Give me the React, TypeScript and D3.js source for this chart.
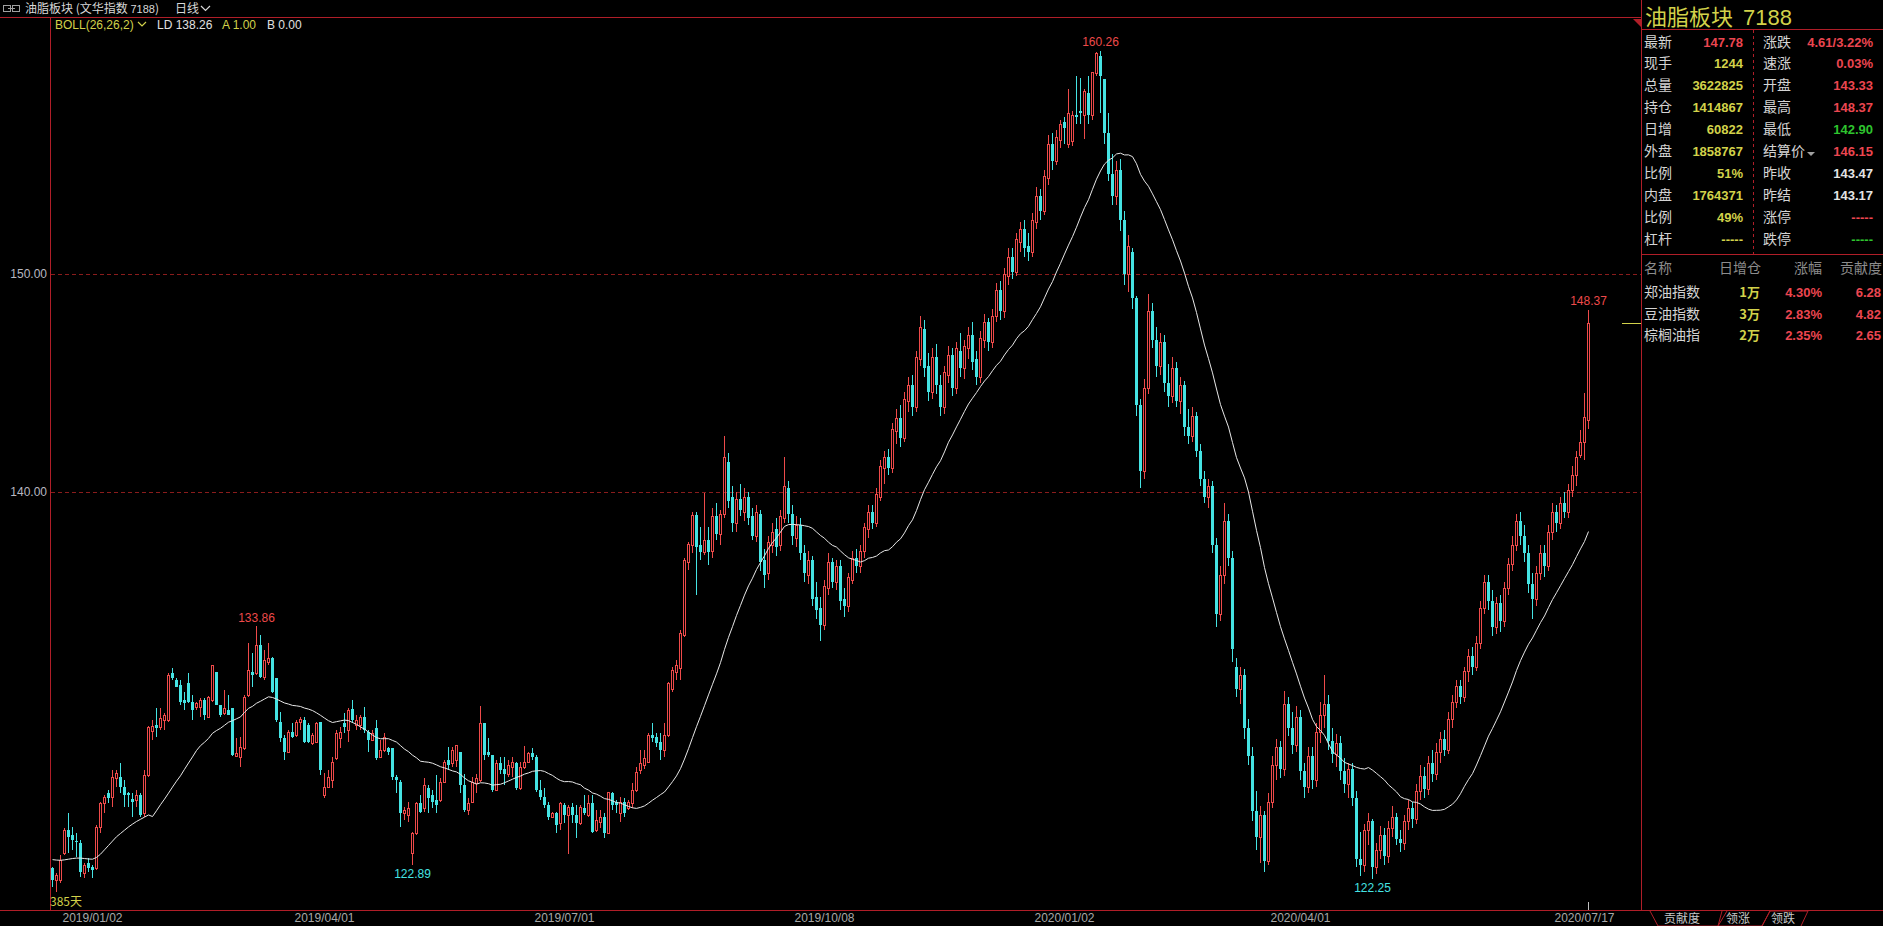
import React from 'react';
import * as d3 from 'd3';

// ---- candle data [open, high, low, close] ----
const ohlcA: [number, number, number, number][] = [
  [122.75,122.83,121.91,122.22],[122.22,122.52,121.68,122.45],[122.22,123.36,122.06,123.13],[123.44,124.59,123.36,124.51],
  [124.51,125.27,123.44,124.2],[124.28,124.66,123.6,124.05],[124.02,124.36,123.29,123.94],[123.9,124.05,122.37,122.6],
  [122.52,122.98,122.3,122.9],[122.98,123.21,122.6,122.75],[122.83,122.9,122.3,122.67],[122.75,124.74,122.67,124.66],
  [124.66,125.81,124.36,125.73],[125.73,126.11,125.27,126.04],[126.19,126.34,125.73,125.96],[126.04,127.26,125.58,126.96],
  [126.88,127.26,126.5,127.11],[126.96,127.57,126.19,126.5],[126.5,126.8,125.58,126.11],[126.19,126.27,125.58,126.11],
  [125.92,126.19,125.12,125.81],[125.89,126.34,125.58,126.11],[126.11,126.19,125.12,125.2],[125.27,127.26,125.12,127.03],
  [127.03,129.28,126.95,129.25],[129.06,129.55,128.64,129.28],[129.32,130.09,128.79,129.17],[129.25,130.09,129.09,129.63],
  [129.55,129.86,129.09,129.78],[129.55,131.69,129.48,131.62],[131.69,131.92,131.39,131.46],[131.39,131.46,131.08,131.08],
  [131.16,131.39,130.24,130.39],[130.47,130.85,130.01,130.32],[131.23,131.69,130.32,130.39],[130.39,130.7,129.55,130.01],
  [130.16,130.39,130.01,130.32],[130.16,130.55,129.71,130.47],[130.47,130.55,129.55,129.78],[129.71,130.65,129.63,130.62],
  [130.47,132.08,130.39,132.08],[131.77,131.77,130.24,130.24],[130.24,130.24,129.71,129.78],[129.86,130.93,129.78,130.09],
  [130.01,130.7,129.78,129.78],[130.09,130.09,127.9,127.95],[127.9,128.71,127.87,128.05],[127.87,128.79,127.41,128.33],
  [128.25,130.7,128.18,130.62],[130.7,133.07,130.62,131.85],[131.77,132.61,131.08,131.62],[131.69,133.86,131.62,132.99],
  [132.99,133.45,131.46,131.54],[131.54,132.76,131.39,132.31],[132.23,133.07,132.08,132.38],[132.38,132.46,130.78,130.85],
  [131.46,131.46,129.48,129.55],[129.48,129.93,128.56,128.71],[128.71,128.87,127.72,128.1],[128.1,129.09,128.02,129.02],
  [129.02,129.4,128.71,128.79],[128.87,129.55,128.79,129.48],[129.48,129.71,129.09,129.58],[129.55,129.71,128.48,128.56],
  [129.32,129.4,128.48,128.56],[128.48,128.94,128.41,128.87],[128.56,129.48,128.48,129.4],[129.48,129.48,127.03,127.26],
  [126.11,127.11,125.96,126.49],[126.49,127.26,126.42,126.95],[126.8,127.87,126.42,127.64],[127.79,129.09,127.72,128.94],
  [128.71,129.25,128.25,129.02],[129.4,129.86,128.94,129.25],[129.09,130.09,128.56,130.01],[130.04,130.47,129.4,129.55],
  [129.32,129.78,129.09,129.55],[129.32,129.78,129.09,129.71],[129.67,130.13,128.94,129.09],[129.02,129.09,128.1,128.64],
  [128.64,129.09,128.6,128.94],[129.17,129.55,127.72,127.79],[127.87,128.64,127.79,128.18],[128.18,128.94,128.1,128.79],
  [128.25,128.33,127.95,128.1],[128.25,128.25,126.8,126.95],[126.95,127.03,126.19,126.8],[126.72,126.8,124.66,125.27],
  [125.27,125.58,124.97,125.42],[125.19,125.81,124.89,125.5],[123.44,124.43,122.89,124.35],[124.35,125.81,124.28,125.73],
  [125.73,126.11,125.27,125.35],[125.5,126.88,125.35,126.57],[126.42,126.57,125.27,125.96],[126.11,126.34,125.5,125.8],
  [125.88,127.03,125.27,125.65],[125.88,126.88,125.8,126.72],[126.72,127.72,126.65,127.64],[127.72,128.33,127.26,127.49],
  [127.56,128.33,127.41,128.17],[127.72,128.4,127.41,128.4],[128.1,128.1,126.19,126.57],[126.57,127.1,125.35,125.42],
  [125.42,125.96,125.19,125.73],[125.8,126.95,125.73,126.72],[126.65,127.1,126.19,126.88],[126.8,130.19,126.72,129.4],
  [129.4,129.4,127.72,127.95],[128.1,128.71,127.87,127.95],[127.95,127.95,126.26,126.34],[126.34,127.72,126.34,127.56],
  [127.56,127.87,127.1,127.26],[127.33,127.87,126.57,127.1],[127.1,127.72,126.95,127.49],[127.41,127.87,126.95,127.64],
  [127.56,127.64,126.34,126.42],[126.42,127.64,126.34,127.41],[127.41,128.36,127.33,127.64],[127.64,128.1,127.56,128.02],
  [128.02,128.25,127.72,127.87],[127.87,127.95,126.26,126.34],[126.34,126.8,125.88,126.03],[126.03,126.42,125.5,125.65],
  [125.65,125.8,124.96,125.12],[125.12,125.35,125.04,125.27],[125.27,125.35,124.35,124.73],[124.81,125.8,124.5,125.73],
  [125.65,125.73,124.81,125.19],[125.19,125.65,123.43,125.57],[125.57,125.73,124.81,125.19],[125.19,125.65,124.12,124.81],
  [124.81,125.65,124.73,125.57],[125.5,126.11,125.19,125.27],[125.19,126.11,125.12,125.73],[125.73,126.11,124.35,124.43],
  [124.5,125.42,124.43,124.96],[124.89,125.42,124.58,125.12],[125.12,125.27,124.12,124.35],[124.35,126.26,124.35,126.26],
  [126.19,126.26,125.42,125.65],[125.8,125.88,125.27,125.65],[125.27,126.03,124.89,125.8],[125.8,125.96,125.12,125.27],
  [125.5,125.88,125.42,125.8],[125.73,126.65,125.5,126.34],[126.34,127.41,126.26,127.18],[127.26,128.17,127.1,127.56],
  [127.49,128.17,127.33,127.79],[127.64,128.94,127.56,128.86],[128.86,129.4,128.56,128.71],[128.79,128.94,128.33,128.48],
  [128.56,128.94,127.72,128.17],[128.17,129.4,127.87,128.86],[128.86,131.31,128.79,131.23],[131.0,132.0,130.85,131.84],
  [131.77,132.3,131.39,132.07],[131.92,133.68,131.39,133.53],[133.45,136.97,133.37,136.89],[136.81,137.73,136.43,137.65],
  [137.58,139.11,137.2,138.95],[138.95,139.11,135.28,137.5],[137.58,138.42,136.89,137.27],[137.27,139.95,137.12,137.81],
  [137.81,138.42,136.66,137.27],
];
const ohlcB: [number, number, number, number][] = [
  [137.3,139.3,137.0,138.9],[138.9,139.5,137.8,138.1],[138.1,139.2,137.6,139.0],[139.0,142.6,138.8,141.6],
  [141.4,141.8,139.3,139.6],[139.8,140.3,138.2,138.6],[138.6,140.0,138.2,139.7],[139.7,140.4,138.9,139.2],
  [139.1,140.2,138.7,139.8],[139.8,140.0,138.5,138.8],[138.9,139.3,137.8,138.0],[138.0,139.4,137.7,139.1],
  [139.0,139.2,136.4,136.8],[136.9,137.4,135.6,136.2],[136.3,138.0,136.0,137.7],[137.6,138.6,137.2,138.2],
  [138.3,138.8,137.1,137.5],[137.6,139.2,137.3,138.9],[138.8,141.6,138.6,140.3],[140.2,140.5,138.6,139.0],
  [139.0,139.4,137.6,138.0],[137.9,138.9,137.5,138.5],[138.5,138.8,136.9,137.2],[137.2,137.6,135.9,136.3],
  [136.2,137.3,135.8,136.9],[136.9,137.1,134.8,135.1],[135.2,135.9,134.2,134.6],[134.7,135.2,133.2,133.9],
  [133.9,136.0,133.7,135.7],[135.6,137.2,135.3,136.8],[136.8,137.0,135.6,135.9],[135.9,136.9,135.5,136.6],
  [136.6,136.9,134.6,135.0],[135.1,135.6,134.3,134.8],[134.8,136.3,134.5,136.1],[136.0,137.3,135.8,137.0],
  [137.0,137.4,136.3,136.6],[136.6,137.6,136.3,137.3],[137.3,138.6,137.0,138.4],[138.3,139.4,137.9,139.1],
  [139.1,139.4,138.3,138.6],[138.6,140.2,138.4,139.9],[139.8,141.5,139.6,141.2],[141.1,141.9,140.4,141.6],
  [141.6,142.0,140.8,141.1],[141.1,143.2,140.9,142.9],[142.8,143.8,142.2,143.4],[143.4,144.0,142.1,142.5],
  [142.5,144.6,142.3,144.3],[144.2,145.3,143.7,144.9],[144.9,145.4,143.5,143.9],[143.9,146.5,143.7,146.2],
  [146.1,148.1,145.8,147.6],[147.5,147.9,145.3,145.7],[145.8,146.4,144.2,144.6],[144.6,146.6,144.3,146.2],
  [146.2,146.8,144.5,144.9],[144.9,145.4,143.5,143.9],[143.9,145.8,143.6,145.5],[145.4,146.7,145.0,146.3],
  [146.3,146.6,144.4,144.8],[144.8,146.9,144.5,146.6],[146.5,147.3,145.3,145.7],[145.7,147.0,145.2,146.7],
  [146.6,147.6,146.1,147.2],[147.2,147.8,145.6,146.0],[146.1,146.5,144.9,145.3],[145.3,147.4,145.0,147.1],
  [147.0,148.2,146.6,147.8],[147.8,148.0,146.5,146.9],[146.9,148.4,146.6,148.1],[148.1,149.6,147.8,149.3],
  [149.3,149.7,147.9,148.3],[148.3,150.3,148.0,150.0],[149.9,151.2,149.5,150.8],[150.8,151.2,149.8,150.1],
  [150.1,151.9,149.9,151.6],[151.5,152.4,151.0,152.1],[152.1,152.5,150.8,151.2],[151.3,151.9,150.6,151.0],
  [151.0,152.8,150.8,152.5],[152.4,154.0,152.1,153.6],[153.6,153.9,152.5,152.9],[152.9,154.8,152.7,154.5],
  [154.4,156.4,154.1,156.0],[156.0,156.5,154.8,155.2],[155.2,156.6,155.0,156.3],[156.16,157.08,155.8,156.9],
  [157.0,157.2,156.0,156.7],[156.0,158.5,155.8,157.4],[156.1,157.5,155.9,157.3],[157.3,159.1,156.9,157.2],
  [157.5,159.0,156.9,157.4],[157.3,158.5,156.2,158.4],[158.3,159.1,156.9,157.3],[157.3,159.3,157.1,159.3],
  [159.22,160.2,159.1,160.14],[160.0,160.26,157.4,159.1],[158.94,158.94,156.0,156.5],[156.5,157.4,154.3,154.6],
  [154.6,155.5,153.2,153.6],[153.6,155.2,153.2,154.8],[154.8,155.3,152.0,152.5],[152.5,152.9,149.5,150.0],
  [150.0,151.8,149.2,151.3],[151.0,151.2,148.4,148.9],[148.9,149.0,143.5,144.0],[144.0,144.3,140.2,141.0],
  [141.0,145.2,140.6,144.8],[144.8,149.1,144.5,148.3],[148.3,148.7,146.6,147.0],[147.0,147.6,145.3,145.8],
  [145.8,147.3,145.4,146.9],[146.9,147.2,144.6,145.0],[145.0,145.9,143.9,144.4],[144.4,146.2,144.1,145.7],
  [145.7,146.0,143.9,144.2],[144.2,145.3,143.6,144.9],[144.9,145.1,142.6,143.0],[143.0,143.8,142.2,142.6],
  [142.6,143.9,142.3,143.5],[143.5,143.7,141.6,141.9],[141.9,142.2,140.3,140.6],[140.6,141.0,139.5,139.8],
  [139.8,140.6,139.3,140.3],[140.3,140.5,137.2,137.6],[137.6,137.9,133.8,134.4],[134.4,136.6,134.1,136.2],
  [136.2,139.5,135.8,138.7],[138.7,139.0,136.6,137.0],[137.0,137.3,132.2,132.8],[132.0,132.4,130.6,131.0],
  [131.0,132.0,130.3,131.6],[131.6,131.9,128.7,129.2],[129.2,129.6,127.5,127.9],[127.9,128.3,124.9,125.4],
  [125.4,126.3,123.6,124.2],[124.2,125.6,123.0,125.2],[125.2,125.4,122.6,123.1],[123.1,126.2,122.9,125.8],
  [125.8,127.9,125.5,127.5],[127.5,128.7,126.8,128.3],[128.3,128.6,126.9,127.3],[127.3,130.9,127.0,130.3],
  [130.3,130.6,128.8,129.2],[129.2,129.9,128.0,128.4],[128.4,130.2,128.1,129.7],[129.7,130.0,126.8,127.2],
  [127.2,127.6,126.0,126.5],[126.5,128.3,126.2,127.9],[127.9,128.3,126.4,126.8],[126.8,129.4,126.5,129.0],
  [129.0,130.4,128.5,129.8],[129.8,131.6,129.2,130.3],[130.3,130.7,128.2,128.6],[128.6,129.2,127.6,128.0],
  [128.0,128.9,127.4,128.5],[128.5,128.8,126.8,127.2],[127.2,127.8,126.2,126.6],[126.6,127.6,126.0,127.3],
  [127.3,127.6,125.6,126.0],[126.0,126.3,122.8,123.2],[123.2,124.4,122.4,122.9],[122.9,124.8,122.6,124.5],
  [124.5,125.3,123.8,124.9],[124.9,125.0,122.25,122.8],[122.8,123.9,122.5,123.6],[123.6,124.7,123.2,124.3],
  [124.3,124.6,122.9,123.3],[123.3,124.9,123.0,124.6],[124.6,125.6,124.2,125.1],[125.1,125.3,123.8,124.1],
  [124.1,124.5,123.5,123.9],[123.9,125.2,123.6,124.9],[124.9,125.9,124.5,125.5],[125.5,125.8,124.6,125.0],
  [125.0,126.6,124.8,126.3],[126.3,127.5,125.9,127.0],[127.0,127.4,126.0,126.4],[126.4,127.9,126.1,127.6],
  [127.6,128.2,126.7,127.1],[127.1,128.5,126.8,128.1],[128.1,129.0,127.6,128.7],[128.7,129.1,127.9,128.2],
  [128.2,129.9,128.0,129.6],[129.6,130.7,129.2,130.4],[130.4,131.4,130.1,131.1],[131.1,131.4,130.3,130.6],
  [130.6,132.0,130.4,131.8],[131.8,132.8,131.3,132.5],[132.5,132.9,131.6,132.0],[132.0,133.4,131.8,133.1],
  [133.1,135.0,132.8,134.7],[134.7,136.2,134.4,135.9],[135.9,136.2,134.6,135.0],[135.0,135.5,133.4,133.8],
  [133.8,135.2,133.5,134.9],[134.9,135.3,133.6,134.1],[134.1,135.9,133.8,135.6],[135.6,137.0,135.3,136.7],
  [136.7,138.0,136.4,137.6],[137.6,139.0,137.3,138.7],[138.7,139.1,137.6,138.0],[138.0,138.5,136.8,137.2],
  [137.2,137.6,135.4,135.8],[135.8,136.3,134.2,135.1],[135.1,136.6,134.8,136.3],[136.3,137.6,136.0,137.2],
  [137.2,137.6,136.1,136.6],[136.6,138.5,136.4,138.2],[138.2,139.5,137.8,139.1],[139.1,139.4,138.2,138.6],
  [138.6,139.8,138.3,139.5],[139.5,140.0,138.8,139.1],[139.1,140.4,138.8,140.1],[140.1,141.2,139.8,140.8],
  [140.8,141.9,140.3,141.64],[141.71,142.86,141.56,142.32],[142.32,144.54,141.48,143.47],[143.33,148.37,142.90,147.78],
];

// BOLL mid values read for the first candles (before 26 closes are available)
const bollHead = [123.15,123.13,123.12,123.14,123.17,123.2,123.22,123.22,123.2,123.18,123.17,123.25,123.4,123.6,123.8,124.0,124.2,124.35,124.5,124.65,124.78,124.9,125.0,125.1,125.2];

const TOTAL = 385;
const dateLabels = ['2019/01/02','2019/04/01','2019/07/01','2019/10/08','2020/01/02','2020/04/01','2020/07/17'];
const dateIndex = [10, 68, 128, 193, 253, 312, 383];
const yTicks = [140, 150];
const highMarks: [number, string][] = [[51,'133.86'],[262,'160.26'],[384,'148.37']];
const lowMarks: [number, string][] = [[90,'122.89'],[330,'122.25']];
const lastPrice = 147.78;

const quoteLeft: [string, string, string][] = [
  ['最新','147.78','r'],['现手','1244','y'],['总量','3622825','y'],['持仓','1414867','y'],['日增','60822','y'],
  ['外盘','1858767','y'],['比例','51%','y'],['内盘','1764371','y'],['比例','49%','y'],['杠杆','-----','y'],
];
const quoteRight: [string, string, string][] = [
  ['涨跌','4.61/3.22%','r'],['速涨','0.03%','r'],['开盘','143.33','r'],['最高','148.37','r'],['最低','142.90','g'],
  ['结算价','146.15','r'],['昨收','143.47','w'],['昨结','143.17','w'],['涨停','-----','r'],['跌停','-----','g'],
];
const contribHead = ['名称','日增仓','涨幅','贡献度'];
const contribRows: [string, string, string, string][] = [
  ['郑油指数','1万','4.30%','6.28'],['豆油指数','3万','2.83%','4.82'],['棕榈油指','2万','2.35%','2.65'],
];
const tabs = ['贡献度','领涨','领跌'];

const RED = '#ee4a4a';
const CYAN = '#45e3e3';
const YEL = '#d2d24a';
const FRAME = '#b01e28';
const FONT = '"Liberation Sans", Arial, "Noto Sans CJK SC", sans-serif';
const CJK = '"Noto Sans CJK SC", "Liberation Sans", sans-serif';
const colorOf: Record<string, string> = { r: '#ec4650', y: YEL, g: '#2ec42e', w: '#e4e4e4' };

export default function App() {
  const data = [...ohlcA, ...ohlcB];
  const left = 50, right = 1641, top = 17, bottom = 910;
  const x = d3.scaleLinear().domain([0, TOTAL - 1]).range([52.5, 52.5 + 4 * (TOTAL - 1)]);
  const y = d3.scaleLinear().domain([140, 150]).range([492.3, 274.3]);
  const closes = data.map(d => d[3]);
  const mid: [number, number][] = closes.map((_, i) => {
    if (i < 25) return [i, bollHead[i]];
    return [i, d3.mean(closes.slice(i - 25, i + 1)) as number];
  });
  const midPath = d3.line<[number, number]>().x(d => x(d[0])).y(d => y(d[1])).curve(d3.curveLinear)(mid) || '';
  const R = (v: number) => Math.round(v);

  return (
    <div style={{ position: 'absolute', left: 0, top: 0, width: 1883, height: 926, background: '#000' }}>
      <svg width={1883} height={926} style={{ display: 'block', background: '#000' }}>
        {/* header */}
        <g>
          <rect x={3.5} y={5.5} width={7} height={6} fill="none" stroke="#a0a0a0" />
          <rect x={12.5} y={5.5} width={7} height={6} fill="none" stroke="#a0a0a0" />
          <line x1={8} y1={8.5} x2={15} y2={8.5} stroke="#a0a0a0" />
          <text x={25} y={13} fill="#d8d8d8" fontSize={12} fontFamily={CJK}>油脂板块 (文华指数 <tspan fontFamily={FONT} fontSize={11}>7188</tspan>)</text>
          <text x={175} y={13} fill="#d8d8d8" fontSize={12} fontFamily={CJK}>日线</text>
          <polyline points="201,6 205.5,10.5 210,6" fill="none" stroke="#d8d8d8" strokeWidth={1.2} />
        </g>
        <line x1={0} y1={top + 0.5} x2={right} y2={top + 0.5} stroke={FRAME} />
        <line x1={left + 0.5} y1={top} x2={left + 0.5} y2={bottom} stroke={FRAME} />
        <line x1={0} y1={bottom + 0.5} x2={1883} y2={bottom + 0.5} stroke={FRAME} />
        <line x1={right + 0.5} y1={0} x2={right + 0.5} y2={bottom} stroke={FRAME} />

        {/* indicator legend */}
        <g fontFamily={FONT} fontSize={12}>
          <text x={55} y={29} fill={YEL}>BOLL(26,26,2)</text>
          <polyline points="138,22 142,26 146,22" fill="none" stroke={YEL} strokeWidth={1.2} />
          <text x={157} y={29} fill="#e0e0e0">LD 138.26</text>
          <text x={222} y={29} fill={YEL}>A 1.00</text>
          <text x={267} y={29} fill="#e0e0e0">B 0.00</text>
        </g>

        {/* grid + y labels */}
        {yTicks.map(t => (
          <g key={t}>
            <line x1={left + 1} x2={right} y1={R(y(t)) + 0.5} y2={R(y(t)) + 0.5} stroke="#8a1c1c" strokeDasharray="4,3" />
            <text x={47} y={R(y(t)) + 4} fill="#b8b8c0" fontSize={12} fontFamily={FONT} textAnchor="end">{t.toFixed(2)}</text>
          </g>
        ))}

        {/* candles */}
        <g>
          {data.map((d, i) => {
            const [o, h, l, c] = d;
            const cx = x(i);
            if (c >= o) {
              const yt = R(y(c)), yb = R(y(o));
              const hh = Math.max(yb - yt, 1);
              return (
                <g key={i}>
                  <line x1={cx} x2={cx} y1={R(y(h))} y2={yt} stroke={RED} />
                  <line x1={cx} x2={cx} y1={yt + hh} y2={R(y(l))} stroke={RED} />
                  <rect x={cx - 1} y={yt + 0.5} width={2} height={hh} fill="none" stroke={RED} />
                </g>
              );
            }
            const yt = R(y(o)), yb = R(y(c));
            return (
              <g key={i}>
                <line x1={cx} x2={cx} y1={R(y(h))} y2={R(y(l))} stroke={CYAN} />
                <rect x={cx - 1.5} y={yt} width={3} height={Math.max(yb - yt, 1)} fill={CYAN} />
              </g>
            );
          })}
        </g>
        <path d={midPath} fill="none" stroke="#e8e8e8" strokeWidth={1} />

        {/* extreme labels */}
        <g fontFamily={FONT} fontSize={12} textAnchor="middle">
          {highMarks.filter(m => m[0] < data.length).map(([i, s]) => (
            <text key={s} x={x(i)} y={y(data[i][1]) - 4.5} fill={RED}>{s}</text>
          ))}
          {lowMarks.filter(m => m[0] < data.length).map(([i, s]) => (
            <text key={s} x={x(i)} y={y(data[i][2]) + 13} fill={CYAN}>{s}</text>
          ))}
        </g>
        <line x1={1622} x2={right} y1={R(y(lastPrice)) + 0.5} y2={R(y(lastPrice)) + 0.5} stroke={YEL} />
        <text x={50} y={906} fill={YEL} fontSize={12} fontFamily={CJK}>385天</text>

        {/* date axis */}
        <g fontFamily={FONT} fontSize={12} fill="#a8a8a8" textAnchor="middle">
          {dateLabels.map((s, k) => (
            <text key={s} x={x(dateIndex[k])} y={922}>{s}</text>
          ))}
        </g>
        <line x1={x(TOTAL - 1)} x2={x(TOTAL - 1)} y1={bottom - 8} y2={bottom} stroke="#c0c0c0" />

        {/* right panel */}
        <polygon points="1633,19 1641,19 1641,27" fill={FRAME} />
        <text x={1645} y={25} fill={YEL} fontSize={22} fontFamily={CJK}>油脂板块<tspan fontFamily={FONT} dx={10}>7188</tspan></text>
        <line x1={right} x2={1883} y1={29.5} y2={29.5} stroke={FRAME} />
        <line x1={1753.5} x2={1753.5} y1={30} y2={254} stroke={FRAME} strokeDasharray="3,3" />
        {quoteLeft.map(([lab, val, col], k) => {
          const yy = 46.5 + k * 21.95;
          return (
            <g key={'l' + k}>
              <text x={1644} y={yy} fill="#d4d4d4" fontSize={14} fontFamily={CJK}>{lab}</text>
              <text x={1743} y={yy} fill={colorOf[col]} fontSize={13} fontWeight="bold" fontFamily={FONT} textAnchor="end">{val}</text>
            </g>
          );
        })}
        {quoteRight.map(([lab, val, col], k) => {
          const yy = 46.5 + k * 21.95;
          return (
            <g key={'r' + k}>
              <text x={1763} y={yy} fill="#d4d4d4" fontSize={14} fontFamily={CJK}>{lab}</text>
              <text x={1873} y={yy} fill={colorOf[col]} fontSize={13} fontWeight="bold" fontFamily={FONT} textAnchor="end">{val}</text>
            </g>
          );
        })}
        <polygon points="1807,152 1815,152 1811,156" fill="#a0a0a0" />
        <line x1={right} x2={1883} y1={254.5} y2={254.5} stroke={FRAME} />
        <g fontSize={14} fontFamily={CJK} fill="#8c8c8c">
          <text x={1644} y={273}>{contribHead[0]}</text>
          <text x={1761} y={273} textAnchor="end">{contribHead[1]}</text>
          <text x={1822} y={273} textAnchor="end">{contribHead[2]}</text>
          <text x={1882} y={273} textAnchor="end">{contribHead[3]}</text>
        </g>
        {contribRows.map((r, k) => {
          const yy = 297 + k * 21.5;
          return (
            <g key={'c' + k}>
              <text x={1644} y={yy} fill="#d4d4d4" fontSize={14} fontFamily={CJK}>{r[0]}</text>
              <text x={1760} y={yy} fill={YEL} fontSize={13} fontWeight="bold" fontFamily={CJK} textAnchor="end">{r[1]}</text>
              <text x={1822} y={yy} fill={colorOf.r} fontSize={13} fontWeight="bold" fontFamily={FONT} textAnchor="end">{r[2]}</text>
              <text x={1881} y={yy} fill={colorOf.r} fontSize={13} fontWeight="bold" fontFamily={FONT} textAnchor="end">{r[3]}</text>
            </g>
          );
        })}

        {/* bottom tabs */}
        <g fontSize={12} fontFamily={CJK} fill="#c8c8c8">
          <polyline points="1650,911 1658,926 1718,926 1727,911" fill="none" stroke={FRAME} />
          <polyline points="1722,911 1718,926 1762,926 1770,911" fill="none" stroke={FRAME} />
          <polyline points="1762,926 1770,911 1808,911 1801,926" fill="none" stroke={FRAME} />
          <text x={1664} y={923}>{tabs[0]}</text>
          <text x={1726} y={923}>{tabs[1]}</text>
          <text x={1771} y={923}>{tabs[2]}</text>
        </g>
      </svg>
    </div>
  );
}
